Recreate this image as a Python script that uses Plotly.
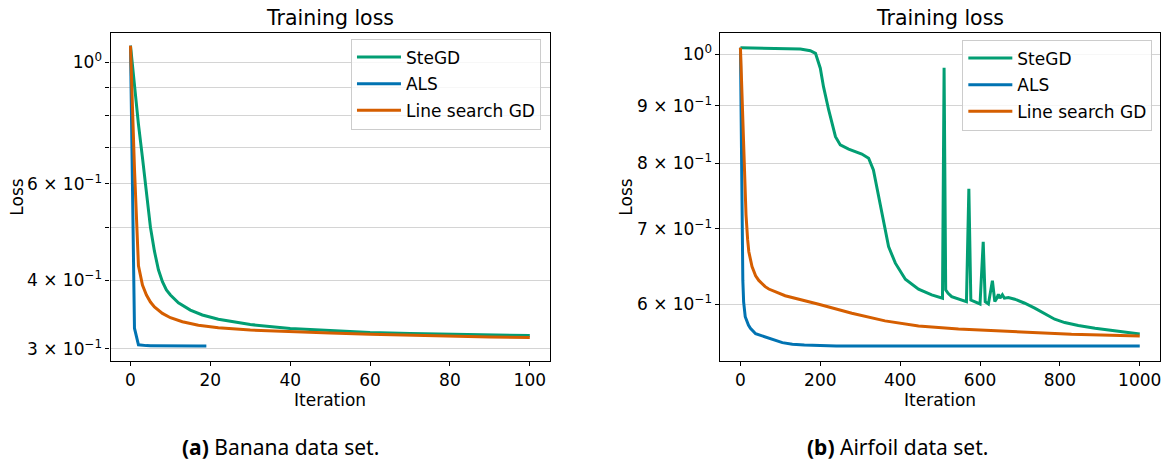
import plotly.graph_objects as go

# ---------------- data: banana data set ----------------
banana_stegd_iter = [0, 1, 2, 3, 4, 5, 6, 7, 8, 9, 10, 12, 15, 18, 22, 30, 40, 50, 60, 70, 80, 90, 100]
banana_stegd_loss = [1.072, 0.90, 0.77, 0.67, 0.58, 0.50, 0.452, 0.418, 0.3975, 0.384, 0.376, 0.3638,
                     0.3529, 0.3457, 0.3396, 0.3320, 0.3267, 0.3235, 0.3212, 0.3198, 0.3187, 0.3178, 0.3170]

banana_als_iter = list(range(20))
banana_als_loss = [1.072, 0.327, 0.305, 0.3041, 0.3039, 0.3038, 0.3037, 0.3037, 0.3036, 0.3036,
                   0.3036, 0.3035, 0.3035, 0.3035, 0.3035, 0.3035, 0.3035, 0.3035, 0.3035, 0.3035]

banana_lsgd_iter = [0, 1, 2, 3, 4, 5, 6, 8, 10, 13, 17, 22, 30, 40, 50, 60, 70, 80, 90, 100]
banana_lsgd_loss = [1.072, 0.64, 0.425, 0.392, 0.376, 0.365, 0.3575, 0.348, 0.3417, 0.336, 0.331,
                    0.3275, 0.3245, 0.3222, 0.3203, 0.3187, 0.3173, 0.3160, 0.3152, 0.3144]

# ---------------- data: airfoil data set ----------------
airfoil_stegd_iter = [0, 100, 150, 175, 188, 200, 208, 221, 238, 250, 271, 304, 321, 333, 346, 358, 371,
                      388, 413, 446, 479, 506, 510, 514, 520, 529, 566, 572, 577, 600, 608, 613, 621,
                      631, 637, 642, 646, 650, 656, 661, 671, 687, 712, 737, 762, 787, 812, 846, 888,
                      938, 1000]
airfoil_stegd_loss = [1.0136, 1.0125, 1.011, 1.0075, 1.002, 0.972, 0.936, 0.8925, 0.8451, 0.831, 0.824,
                      0.8157, 0.8087, 0.7897, 0.7472, 0.708, 0.675, 0.6526, 0.6316, 0.6189, 0.6117,
                      0.6075, 0.973, 0.618, 0.6137, 0.6094, 0.6033, 0.7596, 0.6052, 0.6004, 0.6818,
                      0.6033, 0.6004, 0.6297, 0.6033, 0.6075, 0.6125, 0.6075, 0.6118, 0.6075, 0.6083,
                      0.6063, 0.6013, 0.5953, 0.5884, 0.5820, 0.578, 0.5745, 0.5714, 0.5682, 0.5647]

airfoil_als_iter = [0, 1, 2, 3, 4, 6, 8, 12, 20, 25, 38, 60, 80, 105, 130, 160, 240, 400, 600, 800, 1000]
airfoil_als_loss = [1.0136, 0.93, 0.84, 0.75, 0.675, 0.63, 0.603, 0.585, 0.575, 0.5714, 0.5650, 0.5615,
                    0.5585, 0.5548, 0.5530, 0.5520, 0.5511, 0.5511, 0.5511, 0.5511, 0.5511]

airfoil_lsgd_iter = [0, 5, 10, 14, 18, 21, 29, 38, 46, 62, 71, 112, 196, 279, 362, 446, 546, 662, 829, 1000]
airfoil_lsgd_loss = [1.0136, 0.90, 0.78, 0.72, 0.685, 0.668, 0.648, 0.636, 0.630, 0.622, 0.619, 0.6106,
                     0.600, 0.5892, 0.580, 0.5741, 0.5705, 0.5677, 0.5643, 0.5624]

series_names = ["SteGD", "ALS", "Line search GD"]
series_colors = ["#029E73", "#0173B2", "#D55E00"]

banana_ticks = [0.3, 0.4, 0.5, 0.6, 0.7, 0.8, 0.9, 1.0]
banana_ticktext = ["3 × 10<sup>−1</sup>", "4 × 10<sup>−1</sup>", "", "6 × 10<sup>−1</sup>", "", "", "",
                   "10<sup>0</sup>"]
airfoil_ticks = [0.6, 0.7, 0.8, 0.9, 1.0]
airfoil_ticktext = ["6 × 10<sup>−1</sup>", "7 × 10<sup>−1</sup>", "8 × 10<sup>−1</sup>",
                    "9 × 10<sup>−1</sup>", "10<sup>0</sup>"]

W, H = 1173, 463
FONT = "DejaVu Sans"
CAPTION_FONT = "Noto Sans"

fig = go.Figure()

panels = [
    ("x", "y", "legend",
     [(banana_stegd_iter, banana_stegd_loss), (banana_als_iter, banana_als_loss),
      (banana_lsgd_iter, banana_lsgd_loss)]),
    ("x2", "y2", "legend2",
     [(airfoil_stegd_iter, airfoil_stegd_loss), (airfoil_als_iter, airfoil_als_loss),
      (airfoil_lsgd_iter, airfoil_lsgd_loss)]),
]
for xa, ya, leg, series in panels:
    for name, color, (xs, ys) in zip(series_names, series_colors, series):
        fig.add_trace(go.Scatter(
            x=xs, y=ys, mode="lines", name=name, legend=leg, legendgroup=leg + name,
            line=dict(color=color, width=3), xaxis=xa, yaxis=ya,
        ))

# panel geometry in pixels
left_x = (110.7, 550.7)
right_x = (721.7, 1161.7)
top_px, bot_px = 32.7, 360.7
ydom = [1 - bot_px / H, 1 - top_px / H]

axis_common = dict(
    showline=True, linecolor="black", linewidth=1.2, mirror=True,
    ticks="outside", ticklen=4, tickwidth=1, tickcolor="black",
    tickfont=dict(family=FONT, size=17, color="black"),
    zeroline=False,
)

legend_common = dict(
    xanchor="right", yanchor="top",
    bgcolor="rgba(255,255,255,0.8)", bordercolor="#cccccc", borderwidth=1,
    font=dict(family=FONT, size=17), tracegroupgap=1.5, traceorder="grouped",
    itemwidth=44,
)

fig.update_layout(
    width=W, height=H,
    margin=dict(l=0, r=0, t=0, b=0),
    paper_bgcolor="white", plot_bgcolor="white",
    font=dict(family=FONT, size=17, color="black"),
    xaxis=dict(domain=[left_x[0] / W, left_x[1] / W], range=[-5, 105],
               tickvals=[0, 20, 40, 60, 80, 100], showgrid=False, anchor="y", **axis_common),
    yaxis=dict(domain=ydom, type="log", range=[-0.5448, 0.05404],
               tickmode="array", tickvals=banana_ticks, ticktext=banana_ticktext,
               showgrid=True, gridcolor="#d4d4d4", gridwidth=1.2, anchor="x", **axis_common),
    xaxis2=dict(domain=[right_x[0] / W, right_x[1] / W], range=[-50, 1050],
                tickvals=[0, 200, 400, 600, 800, 1000], showgrid=False, anchor="y2", **axis_common),
    yaxis2=dict(domain=ydom, type="log", range=[-0.2719, 0.01917],
                tickmode="array", tickvals=airfoil_ticks, ticktext=airfoil_ticktext,
                showgrid=True, gridcolor="#d4d4d4", gridwidth=1.2, anchor="x2", **axis_common),
    legend=dict(x=541.9 / W, y=1 - 38.5 / H, **legend_common),
    legend2=dict(x=1154.3 / W, y=1 - 39.5 / H, **legend_common),
    showlegend=True,
)

annotations = []
for (x0, x1) in [left_x, right_x]:
    cx = (x0 + x1) / 2 / W
    annotations.append(dict(text="Training loss", x=cx, y=1 - 18 / H, xref="paper", yref="paper",
                            xanchor="center", yanchor="middle", showarrow=False,
                            font=dict(family=FONT, size=20.5, color="black")))
    annotations.append(dict(text="Iteration", x=cx, y=1 - 400 / H, xref="paper", yref="paper",
                            xanchor="center", yanchor="middle", showarrow=False,
                            font=dict(family=FONT, size=17, color="black")))
annotations.append(dict(text="<b>(a)</b> Banana data set.", x=280.8 / W, y=1 - 446.7 / H,
                        xref="paper", yref="paper", xanchor="center", yanchor="middle",
                        showarrow=False, font=dict(family=CAPTION_FONT, size=21, color="black")))
annotations.append(dict(text="<b>(b)</b> Airfoil data set.", x=899 / W, y=1 - 446.7 / H,
                        xref="paper", yref="paper", xanchor="center", yanchor="middle",
                        showarrow=False, font=dict(family=CAPTION_FONT, size=21, color="black")))
for px in (17, 627):
    annotations.append(dict(text="Loss", x=px / W, y=1 - (top_px + bot_px) / 2 / H,
                            xref="paper", yref="paper", xanchor="center", yanchor="middle",
                            textangle=-90, showarrow=False,
                            font=dict(family=FONT, size=17, color="black")))
fig.update_layout(annotations=annotations)

fig.write_html("out.html")
